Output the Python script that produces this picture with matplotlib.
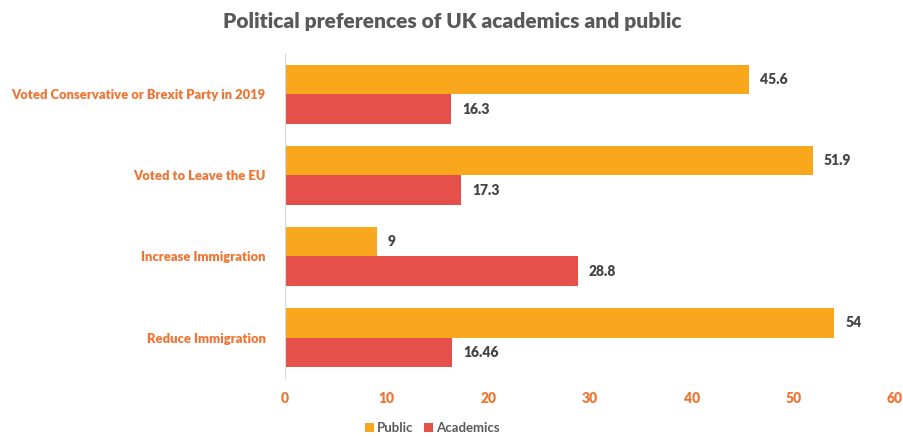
import matplotlib
matplotlib.use("Agg")
import matplotlib.pyplot as plt
import numpy as np

categories = ["Voted Conservative or Brexit Party in 2019", "Voted to Leave the EU",
              "Increase Immigration", "Reduce Immigration"]
public = [45.6, 51.9, 9, 54]
academics = [16.3, 17.3, 28.8, 16.46]
public_labels = ["45.6", "51.9", "9", "54"]
academic_labels = ["16.3", "17.3", "28.8", "16.46"]
xticks = [0, 10, 20, 30, 40, 50, 60]

plt.rcParams['font.family'] = ['Lato', 'DejaVu Sans']

c_pub = "#F9A71C"
c_acad = "#E5514A"
c_lab = "#F07533"
c_txt = "#454545"

fig = plt.figure(figsize=(9.04, 4.37), dpi=100)
ax = fig.add_axes([0.3153, 0.135, 0.6747, 0.7415])

n = len(categories)
y = np.arange(n)[::-1].astype(float)
h = 0.36
ax.barh(y + h / 2, public, height=h, color=c_pub, label="Public")
ax.barh(y - h / 2, academics, height=h, color=c_acad, label="Academics")

for yi, v, s in zip(y, public, public_labels):
    ax.annotate(s, (v, yi + h / 2), xytext=(8, 0), textcoords="offset points",
                va="center", ha="left", fontsize=10, fontweight="heavy", color=c_txt)
for yi, v, s in zip(y, academics, academic_labels):
    ax.annotate(s, (v, yi - h / 2), xytext=(8, 0), textcoords="offset points",
                va="center", ha="left", fontsize=10, fontweight="heavy", color=c_txt)

ax.set_xlim(0, 60)
ax.set_ylim(-0.5, n - 0.5)
ax.set_xticks(xticks)
ax.set_xticklabels([str(t) for t in xticks], fontsize=10, fontweight="heavy", color=c_lab)
ax.set_yticks(y)
ax.set_yticklabels(categories, fontsize=9.4, fontweight="heavy", color=c_lab)
ax.tick_params(axis="both", length=0)
ax.tick_params(axis="x", pad=10)
ax.tick_params(axis="y", pad=14)
for s in ["top", "right", "bottom"]:
    ax.spines[s].set_visible(False)
ax.spines["left"].set_color("#D9D9D9")

fig.text(0.5, 0.95, "Political preferences of UK academics and public",
         ha="center", va="center", fontsize=15, fontweight="heavy", color="#595959")

fig.legend(loc="center", bbox_to_anchor=(0.478, 0.02), ncol=2, frameon=False,
           prop={"size": 9.5, "weight": "bold"}, handlelength=0.7, handleheight=0.7,
           handletextpad=0.2, columnspacing=0.8, labelcolor="#595959")

fig.savefig("out.png", dpi=100)
